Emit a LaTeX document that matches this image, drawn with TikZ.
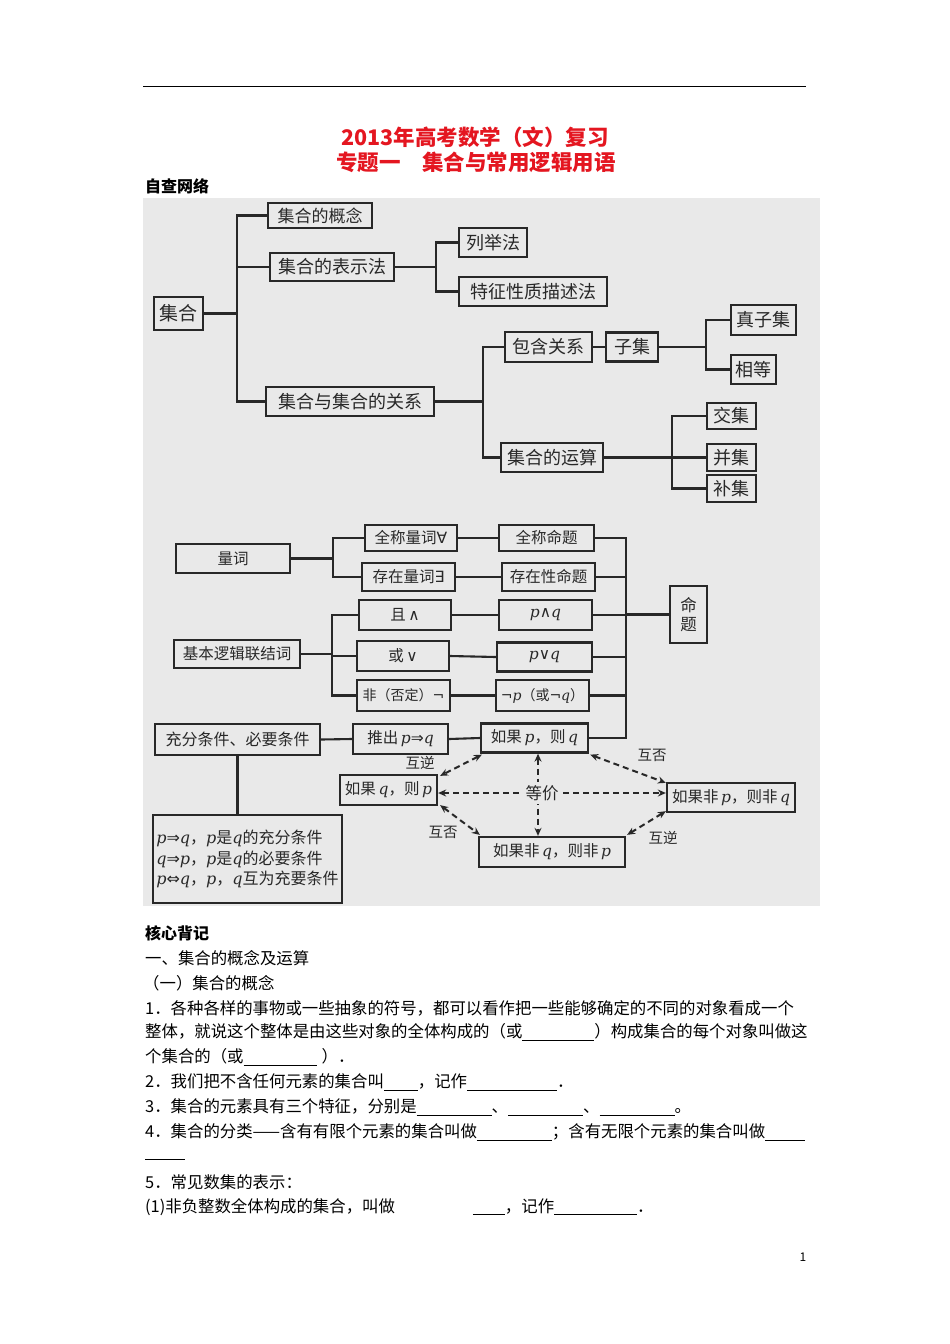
\documentclass[tikz,border=0pt]{standalone}
\usepackage{fontspec}
\setmainfont{Noto Sans CJK SC}
\newfontfamily\symf{DejaVu Sans}
\newfontfamily\latf{DejaVu Serif}
\usetikzlibrary{arrows.meta}
\definecolor{titlered}{RGB}{228,22,32}
\definecolor{scanbg}{RGB}{233,233,233}
\definecolor{ink}{RGB}{40,40,40}
\newcommand{\setfs}[1]{\fontsize{#1}{#1}\selectfont}
\newcommand{\myblank}[1]{\rule[-2.5pt]{#1pt}{0.6pt}}
\newcommand{\vp}{{\latf\itshape p}}
\newcommand{\vq}{{\latf\itshape q}}
\newcommand{\sy}[1]{{\symf #1}}
\begin{document}
\begin{tikzpicture}[x=1pt,y=-1pt,
  box/.style={draw=ink,line width=2.3pt,fill=scanbg,inner sep=0pt,text=ink},
  link/.style={draw=ink,line width=2.1pt},
  darr/.style={draw=ink,line width=2pt,dash pattern=on 6pt off 4pt,
    {Stealth[length=8pt,width=7pt]}-{Stealth[length=8pt,width=7pt]}},
  lbl/.style={inner sep=1pt,text=ink,font=\setfs{14.5}},
  body/.style={anchor=west,inner sep=0pt,font=\setfs{16.4}}]
% page
\path[fill=white] (0,0) rectangle (950,1344);
\useasboundingbox (0,0) rectangle (950,1344);
\draw[line width=1pt] (143,86) -- (806,86);
% title
\node[text=titlered,font=\setfs{21.5}\bfseries] (title1) at (475,137) {2013年高考数学（文）复习};
\node[text=titlered,font=\setfs{21.5}\bfseries] (title2) at (476,162) {专题一\quad 集合与常用逻辑用语};
\node[anchor=west,inner sep=0pt,font=\setfs{16}\bfseries] (zc) at (145,186) {自查网络};
% diagram background
\path[fill=scanbg] (143,198) rectangle (820,906);
% ---- part 1 : sets
\node[box,minimum width=49pt,minimum height=33pt,font=\setfs{19}] (jh) at (178.5,313.5) {集合};
\node[box,minimum width=104pt,minimum height=25pt,font=\setfs{17}] (gn) at (320,215.5) {集合的概念};
\node[box,minimum width=124pt,minimum height=28pt,font=\setfs{18}] (bsf) at (332,267) {集合的表示法};
\node[box,minimum width=68pt,minimum height=29pt,font=\setfs{18}] (ljf) at (493,242.5) {列举法};
\node[box,minimum width=148pt,minimum height=29pt,font=\setfs{18}] (tz) at (533,291.5) {特征性质描述法};
\node[box,minimum width=168pt,minimum height=29pt,font=\setfs{18}] (gx) at (350,401.5) {集合与集合的关系};
\node[box,minimum width=87pt,minimum height=30pt,font=\setfs{18}] (bh) at (548.5,347) {包含关系};
\node[box,minimum width=52pt,minimum height=29pt,font=\setfs{18}] (zj) at (632,347) {子集};
\node[box,minimum width=65pt,minimum height=30pt,font=\setfs{18}] (zzj) at (763.5,320) {真子集};
\node[box,minimum width=45pt,minimum height=29pt,font=\setfs{18}] (xd) at (753.5,369.5) {相等};
\node[box,minimum width=102pt,minimum height=29pt,font=\setfs{18}] (ys) at (552,457.5) {集合的运算};
\node[box,minimum width=49pt,minimum height=26pt,font=\setfs{18}] (jiao) at (731.5,416) {交集};
\node[box,minimum width=49pt,minimum height=27pt,font=\setfs{18}] (bing) at (731.5,457.5) {并集};
\node[box,minimum width=49pt,minimum height=27pt,font=\setfs{18}] (bu) at (731.5,488.5) {补集};
\coordinate (b1) at (237,0);
\coordinate (b2) at (436,0);
\coordinate (b3) at (483,0);
\coordinate (b4) at (706,0);
\coordinate (b5) at (672,0);
\draw[link] (gn.west) -| (b1 |- gx.west) -- (gx.west);
\draw[link] (jh.east) -- (jh.east -| b1);
\draw[link] (bsf.west) -- (bsf.west -| b1);
\draw[link] (ljf.west) -| (b2 |- tz.west) -- (tz.west);
\draw[link] (bsf.east) -- (bsf.east -| b2);
\draw[link] (bh.west) -| (b3 |- ys.west) -- (ys.west);
\draw[link] (gx.east) -- (gx.east -| b3);
\draw[link] (bh.east) -- (zj.west);
\draw[link] (zzj.west) -| (b4 |- xd.west) -- (xd.west);
\draw[link] (zj.east) -- (zj.east -| b4);
\draw[link] (jiao.west) -| (b5 |- bu.west) -- (bu.west);
\draw[link] (ys.east) -- (bing.west);
% ---- part 2 : logic
\node[box,minimum width=114pt,minimum height=29pt,font=\setfs{15.5}] (lc) at (233,558.5) {量词};
\node[box,minimum width=92pt,minimum height=26pt,font=\setfs{15.5}] (qcl) at (411,538) {全称量词\sy{∀}};
\node[box,minimum width=95pt,minimum height=26pt,font=\setfs{15.5}] (qcm) at (546.5,538) {全称命题};
\node[box,minimum width=93pt,minimum height=28pt,font=\setfs{15.5}] (czl) at (408.5,577) {存在量词\sy{∃}};
\node[box,minimum width=93pt,minimum height=28pt,font=\setfs{15.5}] (czm) at (548.5,577) {存在性命题};
\node[box,minimum width=92pt,minimum height=30pt,font=\setfs{15.5}] (qie) at (405,615) {且\,\sy{∧}};
\node[box,minimum width=93pt,minimum height=30pt,font=\setfs{15.5}] (pq1) at (545.5,615) {\vp{}\sy{∧}\vq{}};
\node[box,minimum width=37pt,minimum height=57pt,font=\setfs{16.5},align=center] (mt) at (688.5,614.5) {命\\[3pt]题};
\node[box,minimum width=126pt,minimum height=28pt,font=\setfs{15.5}] (jb) at (237,654) {基本逻辑联结词};
\node[box,minimum width=92pt,minimum height=30pt,font=\setfs{15.5}] (huo) at (403,656) {或\,\sy{∨}};
\node[box,minimum width=95pt,minimum height=29pt,font=\setfs{15.5}] (pq2) at (544.5,657) {\vp{}\sy{∨}\vq{}};
\node[box,minimum width=93pt,minimum height=31pt,font=\setfs{14}] (fei) at (403.5,695.5) {非（否定）\sy{¬}};
\node[box,minimum width=93pt,minimum height=31pt,font=\setfs{14}] (pq3) at (542.5,695.5) {\sy{¬}\vp{}（或\sy{¬}\vq{}）};
\node[box,minimum width=165pt,minimum height=31pt,font=\setfs{16}] (cf) at (237.5,739.5) {充分条件、必要条件};
\node[box,minimum width=95pt,minimum height=30pt,font=\setfs{15.5}] (tc) at (400.5,739) {推出\,\vp{}\sy{⇒}\vq{}};
\node[box,minimum width=107pt,minimum height=29pt,font=\setfs{15.5}] (r1) at (534.5,738) {如果\,\vp{}，则\,\vq{}};
\node[box,minimum width=97pt,minimum height=30pt,font=\setfs{15.5}] (r2) at (388.5,790) {如果\,\vq{}，则\,\vp{}};
\node[box,minimum width=128pt,minimum height=29pt,font=\setfs{15.5}] (r3) at (731,797.5) {如果非\,\vp{}，则非\,\vq{}};
\node[box,minimum width=146pt,minimum height=30pt,font=\setfs{15.5}] (r4) at (552,852) {如果非\,\vq{}，则非\,\vp{}};
\node[box,minimum width=189pt,minimum height=88pt,font=\setfs{16},align=left] (tb) at (247.5,859)
  {\vp{}\sy{⇒}\vq{}，\vp{}是\vq{}的充分条件\\[3pt]\vq{}\sy{⇒}\vp{}，\vp{}是\vq{}的必要条件\\[3pt]\vp{}\sy{⇔}\vq{}，\vp{}，\vq{}互为充要条件};
\coordinate (c1) at (333,0);
\coordinate (c2) at (332,0);
\coordinate (c3) at (626,0);
\draw[link] (qcl.west) -| (c1 |- czl.west) -- (czl.west);
\draw[link] (lc.east) -- (lc.east -| c1);
\draw[link] (qcl.east) -- (qcm.west);
\draw[link] (czl.east) -- (czm.west);
\draw[link] (qie.west) -| (c2 |- fei.west) -- (fei.west);
\draw[link] (jb.east) -- (jb.east -| c2);
\draw[link] (huo.west) -- (huo.west -| c2);
\draw[link] (qie.east) -- (pq1.west);
\draw[link] (huo.east) -- (pq2.west);
\draw[link] (fei.east) -- (pq3.west);
\draw[link] (qcm.east) -| (c3 |- r1.east) -- (r1.east);
\draw[link] (czm.east) -- (czm.east -| c3);
\draw[link] (pq1.east) -- (pq1.east -| c3);
\draw[link] (pq2.east) -- (pq2.east -| c3);
\draw[link] (pq3.east) -- (pq3.east -| c3);
\draw[link] (mt.west) -- (mt.west -| c3);
\draw[link] (cf.east) -- (tc.west);
\draw[link] (tc.east) -- (r1.west);
\draw[link] (cf.south) -- (cf.south |- tb.north);
% dashed relations
\coordinate (dq) at (538,793);
\draw[darr] ([xshift=2pt,yshift=-1pt]r1.south west) -- ([xshift=2pt,yshift=-2pt]r2.north east);
\draw[darr] ([xshift=1pt,yshift=-1pt]r1.south east) -- ([yshift=-1pt]r3.north west);
\draw[darr] (r2.east |- dq) -- (r3.west |- dq);
\draw[darr] (dq |- r1.south) -- (dq |- r4.north);
\draw[darr] ([xshift=2pt,yshift=1pt]r2.south east) -- ([xshift=2pt,yshift=1pt]r4.north west);
\draw[darr] ([yshift=2pt]r3.south west) -- ([xshift=1pt,yshift=1pt]r4.north east);
\node[lbl,fill=scanbg,font=\setfs{16.5},inner sep=3pt] (dj) at (542,793) {等价};
\node[lbl] (hn1) at (420,763) {互逆};
\node[lbl] (hf1) at (652,755) {互否};
\node[lbl] (hf2) at (443,832) {互否};
\node[lbl] (hn2) at (663,838) {互逆};
% ---- text
\node[anchor=west,inner sep=0pt,font=\setfs{16}\bfseries] (hx) at (145,933) {核心背记};
\node[body] (t1) at (145,958) {一、集合的概念及运算};
\node[body] (t2) at (143,983) {（一）集合的概念};
\node[body] (t3) at (145,1008) {1．各种各样的事物或一些抽象的符号，都可以看作把一些能够确定的不同的对象看成一个};
\node[body] (t4) at (145,1032) {整体，就说这个整体是由这些对象的全体构成的（或\myblank{72}）构成集合的每个对象叫做这};
\node[body] (t5) at (145,1057) {个集合的（或\myblank{73}\hspace{5pt}）．};
\node[body] (t6) at (145,1082) {2．我们把不含任何元素的集合叫\myblank{34}，记作\myblank{90}．};
\node[body] (t7) at (145,1107) {3．集合的元素具有三个特征，分别是\myblank{75}、\myblank{75}、\myblank{75}。};
\node[body] (t8) at (145,1132) {4．集合的分类——含有有限个元素的集合叫做\myblank{75}；含有无限个元素的集合叫做\myblank{40}};
\node[body] (t9) at (145,1158) {\myblank{40}};
\node[body] (t10) at (145,1182) {5．常见数集的表示：};
\node[body] (t11) at (145,1207) {(1)非负整数全体构成的集合，叫做\hspace{78pt}\myblank{32}，记作\myblank{83}．};
\node[inner sep=0pt,font=\setfs{12}] (pg) at (803,1257) {1};
\end{tikzpicture}
\end{document}
